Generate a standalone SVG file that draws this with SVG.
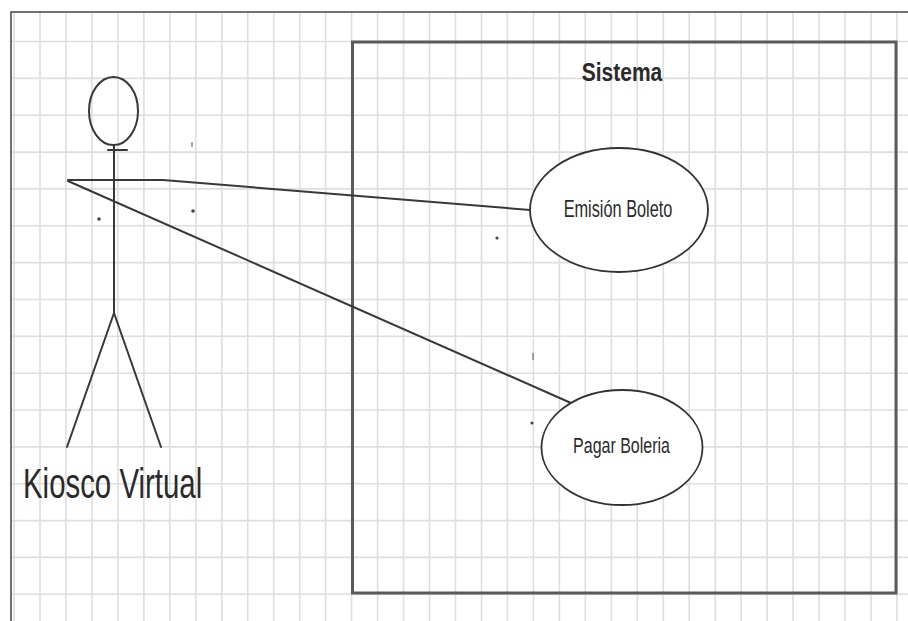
<svg xmlns="http://www.w3.org/2000/svg" width="908" height="621" viewBox="0 0 908 621">
  <style>
    .grid { stroke: #dedede; stroke-width: 1.6; fill: none; }
    .frame { stroke: #444; stroke-width: 1.5; fill: none; }
    .boundary { stroke: #5a5a5a; stroke-width: 3; fill: none; }
    .stroke { stroke: #383838; stroke-width: 2; fill: none; stroke-linecap: round; }
    .usecase { stroke: #333; stroke-width: 1.8; fill: #fff; }
    .label { font-family: "Liberation Sans", Arial, sans-serif; fill: #2a2a2a; }
    .speck { fill: #444; }
  </style>

  <rect width="908" height="621" fill="#fff"/>

  <!-- background grid paper -->
  <path class="grid" d="
    M14 12V621 M40 12V621 M65.9 12V621 M91.9 12V621 M117.9 12V621 M143.9 12V621
    M169.8 12V621 M195.8 12V621 M221.8 12V621 M247.7 12V621 M273.7 12V621
    M299.7 12V621 M325.6 12V621 M351.6 12V621 M377.6 12V621 M403.6 12V621
    M429.5 12V621 M455.5 12V621 M481.5 12V621 M507.4 12V621 M533.4 12V621
    M559.4 12V621 M585.3 12V621 M611.3 12V621 M637.3 12V621 M663.3 12V621
    M689.2 12V621 M715.2 12V621 M741.2 12V621 M767.1 12V621 M793.1 12V621
    M819.1 12V621 M845 12V621 M871 12V621 M897 12V621
    M11 41.5H908 M11 78.4H908 M11 115.2H908 M11 152.1H908 M11 188.9H908
    M11 225.8H908 M11 262.6H908 M11 299.5H908 M11 336.3H908 M11 373.2H908
    M11 410H908 M11 446.9H908 M11 483.7H908 M11 520.6H908 M11 557.4H908
    M11 594.3H908"/>

  <!-- page frame -->
  <path class="frame" d="M11 621V12H908"/>

  <!-- system boundary -->
  <g id="sistema">
    <rect class="boundary" x="352.5" y="42" width="543.5" height="551"/>
    <text class="label" font-weight="bold" font-size="21" text-anchor="middle" transform="translate(622,81) scale(1,1.27)">Sistema</text>
  </g>

  <!-- actor -->
  <g id="kiosco-virtual">
    <ellipse class="stroke" cx="113.5" cy="111" rx="24.5" ry="34"/>
    <path class="stroke" stroke-width="1.2" d="M108 150H127"/>
    <path class="stroke" d="M114 145V313 M114 313L67 447 M114 313L161 447"/>
    <text class="label" font-size="29.4" transform="translate(23,498) scale(1,1.43)">Kiosco Virtual</text>
  </g>

  <!-- associations -->
  <g id="connectors">
    <polyline class="stroke" points="68,180 163,180 530,210"/>
    <line class="stroke" x1="68" y1="181" x2="571" y2="403"/>
  </g>

  <!-- use cases -->
  <g id="emision-boleto">
    <ellipse class="usecase" cx="619" cy="210" rx="89" ry="62"/>
    <text class="label" font-size="16.3" text-anchor="middle" transform="translate(618,217) scale(1,1.45)">Emisión Boleto</text>
  </g>

  <g id="pagar-boleria">
    <ellipse class="usecase" cx="622" cy="447.5" rx="80.5" ry="57.5"/>
    <text class="label" font-size="16" text-anchor="middle" transform="translate(621.5,453) scale(1,1.42)">Pagar Boleria</text>
  </g>

  <!-- stray specks on the sheet -->
  <g id="specks">
    <circle class="speck" cx="99" cy="219" r="1.8"/>
    <circle class="speck" cx="193" cy="211" r="1.8"/>
    <circle class="speck" cx="497" cy="238" r="1.6"/>
    <circle class="speck" cx="532" cy="423" r="1.6"/>
    <path class="speck" stroke="#555" stroke-width="1" d="M533 353V360 M192 142V147"/>
  </g>
</svg>
